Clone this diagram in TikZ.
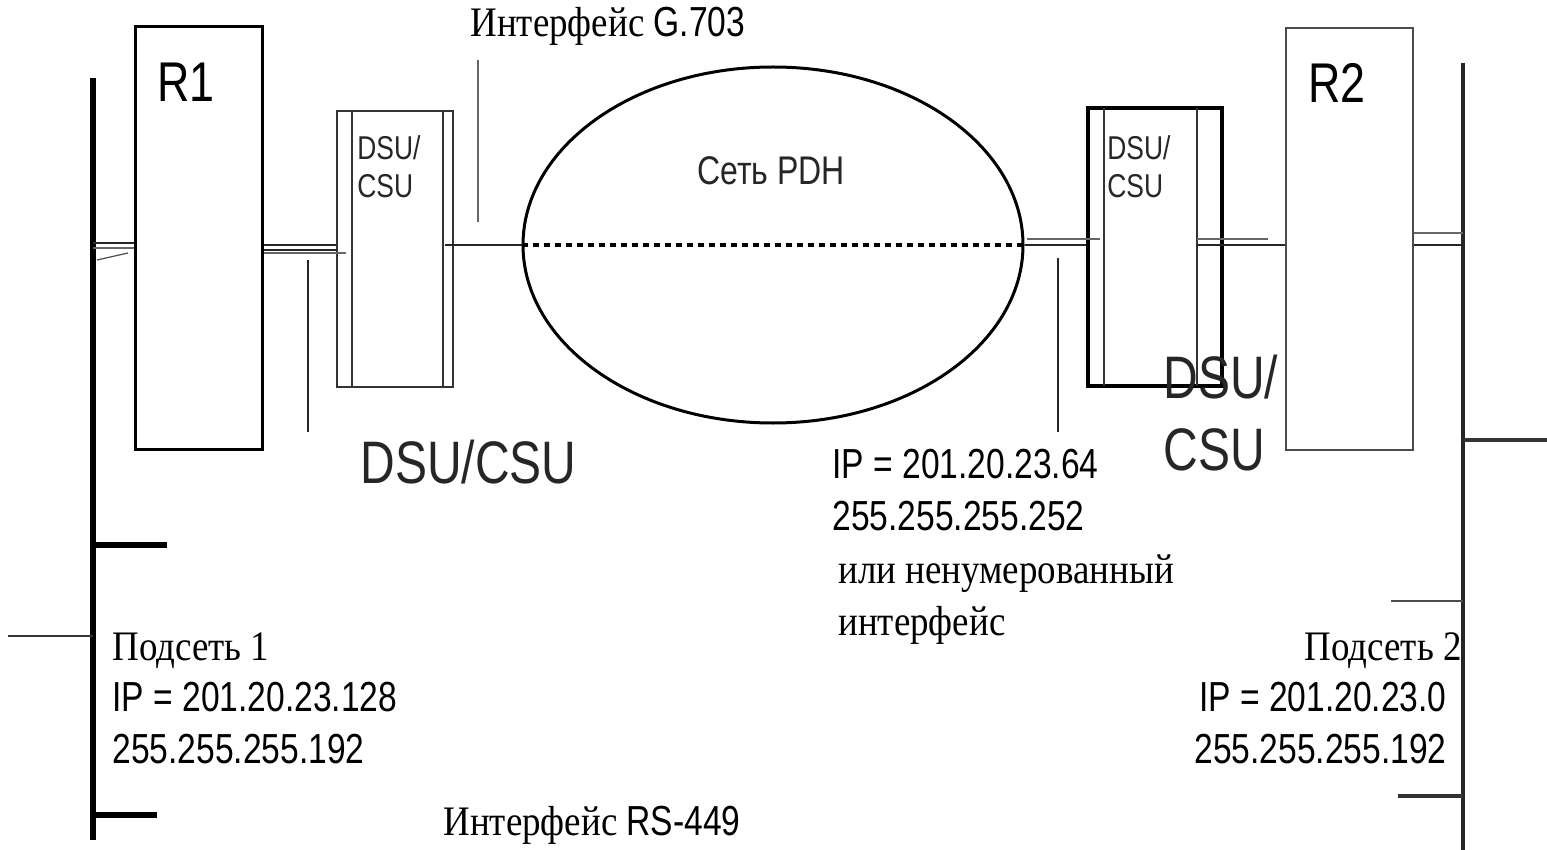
\documentclass[tikz,border=0pt]{standalone}
\usepackage{fontspec}
\usetikzlibrary{shapes.geometric}
\newfontfamily\ar[FakeStretch=0.8]{Liberation Sans}
\newfontfamily\tm[FakeStretch=0.88]{Liberation Serif}
\begin{document}
\begin{tikzpicture}[x=0.5pt,y=-0.5pt,
  box/.style={draw,rectangle,inner sep=0pt},
  lbl/.style={inner sep=0pt,anchor=base west},
  lblr/.style={inner sep=0pt,anchor=base east},
  sans/.style={font=\ar\fontsize{21pt}{26pt}\selectfont},
  serif/.style={font=\tm\fontsize{21pt}{26pt}\selectfont},
  wire/.style={line width=1.3pt,black!85},
  gwire/.style={line width=0.9pt,black!60}]
\useasboundingbox (0,0) rectangle (1547,850);
% buses
\coordinate (LB1) at (93,78); \coordinate (LB2) at (93,840);
\draw[line width=2.6pt] (LB1) -- (LB2);
\coordinate (RB1) at (1463,63); \coordinate (RB2) at (1463,850);
\draw[line width=1.6pt,black!85] (RB1) -- (RB2);
% left bus stubs
\draw[line width=2.6pt] (93,545) -- (167,545);
\draw[line width=3.2pt] (93,815) -- (157,815);
\draw[line width=1.2pt,black!80] (8,636) -- (93,636);
% right bus stubs
\draw[line width=1.8pt,black!80] (1463,440) -- (1547,440);
\draw[line width=0.9pt,black!70] (1391,601) -- (1463,601);
\draw[line width=1.6pt,black!80] (1398,796) -- (1463,796);
% routers
\node[box,line width=1.5pt,minimum width=63.5pt,minimum height=211pt] (R1) at (198.5,238) {};
\node[box,line width=0.8pt,draw=black!70,minimum width=63.5pt,minimum height=211pt] (R2) at (1349.5,239) {};
% DSU/CSU boxes
\node[box,line width=1pt,draw=black!80,minimum width=58pt,minimum height=138pt] (D1) at (395,249) {};
\draw[line width=0.8pt,black!80] (352,111) -- (352,387) (443,111) -- (443,387);
\node[box,line width=1.6pt,minimum width=67pt,minimum height=139pt] (D2) at (1155,247) {};
\draw[line width=0.8pt,black!80] (1104,108) -- (1104,386) (1197,108) -- (1197,386);
% PDH cloud
\node[draw,ellipse,line width=1.5pt,minimum width=250pt,minimum height=178pt,inner sep=0pt] (PDH) at (773,245) {};
\draw[line width=2.2pt,dash pattern=on 3pt off 2.5pt] (PDH.west) -- (PDH.east);
% connections left
\draw[wire] (LB1|-0,243) -- (R1.west|-0,243);
\draw[gwire] (LB1|-0,248) -- (R1.west|-0,248);
\draw[line width=0.6pt,black!70] (97,260) -- (128,253);
\draw[wire] (R1.east|-0,245) -- (D1.west|-0,245);
\draw[wire] (R1.east|-0,250) -- (D1.west|-0,250);
\draw[gwire] (R1.east|-0,253) -- (346,253);
\draw[wire] (308,260) -- (308,432);
\draw[wire] (445,245) -- (PDH.west);
\draw[gwire] (478,60) -- (478,222);
% connections right
\draw[gwire] (1027,239) -- (1100,239);
\draw[wire] (PDH.east) -- (D2.west|-0,245);
\draw[wire] (1058,258) -- (1058,432);
\draw[gwire] (1197,239) -- (1268,239);
\draw[wire] (1197,245) -- (R2.west|-0,245);
\draw[gwire] (R2.east|-0,233) -- (RB1|-0,233);
\draw[wire] (R2.east|-0,245) -- (RB1|-0,245);
% labels
\node[lbl,font=\ar\fontsize{28pt}{30pt}\selectfont] (tR1) at (157,102) {R1};
\node[lbl,font=\ar\fontsize{28pt}{30pt}\selectfont] (tR2) at (1308,103) {R2};
\node[lbl,align=left,text=black!85,font=\ar\fontsize{16.5pt}{19pt}\selectfont] (tD1) at (357,198) {DSU/\\CSU};
\node[lbl,align=left,text=black!85,font=\ar\fontsize{16.5pt}{19pt}\selectfont] (tD2) at (1107,198) {DSU/\\CSU};
\node[lbl,text=black!85,font=\ar\fontsize{20pt}{24pt}\selectfont] (tPDH) at (697,185) {Сеть PDH};
\node[lbl,serif] (tG) at (470,37) {Интерфейс {\ar G.703}};
\node[lbl,text=black!85,font=\ar\fontsize{30pt}{36pt}\selectfont] (tDC) at (360,483) {DSU/CSU};
\node[lbl,align=left,text=black!85,font=\ar\fontsize{30pt}{36pt}\selectfont] (tDC2) at (1163,470) {DSU/\\CSU};
\node[lbl,sans,align=left] (tIP) at (832,530) {IP = 201.20.23.64\\255.255.255.252};
\node[lbl,serif,align=left] (tUn) at (838,635) {или ненумерованный\\интерфейс};
\node[lbl,serif] (tS1) at (112,660) {Подсеть 1};
\node[lbl,sans,align=left] (tS1ip) at (112,763) {IP = 201.20.23.128\\255.255.255.192};
\node[lblr,serif] (tS2) at (1462,660) {Подсеть 2};
\node[lblr,sans,align=right] (tS2ip) at (1447,763) {IP = 201.20.23.0\\255.255.255.192};
\node[lbl,serif] (tRS) at (443,835) {Интерфейс {\ar RS-449}};
\end{tikzpicture}
\end{document}
